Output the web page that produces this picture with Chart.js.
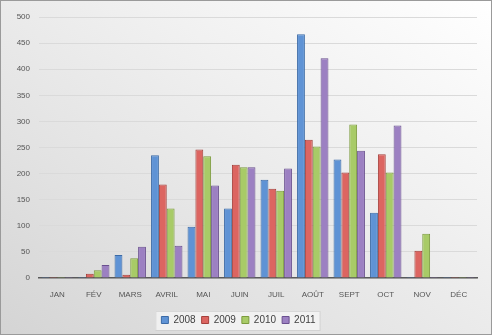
<!DOCTYPE html>
<html>
<head>
<meta charset="utf-8">
<script src="https://cdn.jsdelivr.net/npm/chart.js@4.4.1/dist/chart.umd.min.js"></script>
<style>
  html, body { margin: 0; padding: 0; }
  #wrap { width: 492px; height: 335px; }
  canvas {
    background: linear-gradient(to bottom left, #ffffff 0%, #f1f1f1 35%, #e2e2e2 70%, #d4d4d4 100%);
  }
</style>
</head>
<body>
<div id="wrap"><canvas id="chart" width="492" height="335"></canvas></div>
<script>
// months (French, as on the chart)
const months = ['JAN', 'FÉV', 'MARS', 'AVRIL', 'MAI', 'JUIN', 'JUIL', 'AOÛT', 'SEPT', 'OCT', 'NOV', 'DÉC'];
const years = ['2008', '2009', '2010', '2011'];

// values
const values2008 = [2, 2, 44, 235, 98, 133, 188, 467, 227, 125, 2, 2];
const values2009 = [2, 8, 6, 179, 246, 217, 171, 265, 202, 237, 52, 2];
const values2010 = [2, 15, 38, 133, 233, 212, 167, 252, 294, 202, 85, 2];
const values2011 = [2, 25, 60, 62, 177, 212, 210, 421, 244, 292, 2, 2];

const yTicks = [0, 50, 100, 150, 200, 250, 300, 350, 400, 450, 500];

var fills = ['#5f93d5', '#dc6561', '#a8cb67', '#9c80c2'];
var borders = ['#3b6aa6', '#a5403c', '#7c9b3e', '#6a508f'];

var series = [values2008, values2009, values2010, values2011];
var datasets = series.map((vals, i) => ({
    label: years[i],
    data: vals,
    backgroundColor: fills[i],
    borderColor: borders[i],
    borderWidth: 1,
    categoryPercentage: 0.86,
    barPercentage: 1.0
}));

// light box behind the legend items + outer frame
const frame = {
    id: 'frame',
    beforeDraw(chart) {
        const lg = chart.legend;
        if (lg && lg.legendHitBoxes && lg.legendHitBoxes.length) {
            var l = Math.min(...lg.legendHitBoxes.map(b => b.left)) - 6;
            var r = Math.max(...lg.legendHitBoxes.map(b => b.left + b.width)) + 4;
            var mid = lg.legendHitBoxes[0].top + lg.legendHitBoxes[0].height / 2;
            var ctx = chart.ctx;
            ctx.save();
            ctx.fillStyle = 'rgba(245,245,245,0.8)';
            ctx.strokeStyle = 'rgba(200,200,200,0.6)';
            ctx.fillRect(l, Math.round(mid - 9.5), r - l, 19);
            ctx.strokeRect(l + 0.5, Math.round(mid - 9.5) + 0.5, r - l, 19);
            ctx.restore();
        }
    },
    afterDraw(chart) {
        var ctx = chart.ctx;
        ctx.save();
        ctx.strokeStyle = '#9a9a9a';
        ctx.lineWidth = 1;
        ctx.strokeRect(0.5, 0.5, chart.width - 1, chart.height - 1);
        ctx.restore();
    }
};

const ctx = document.getElementById('chart').getContext('2d');
var chart = new Chart(ctx, {
    type: 'bar',
    data: { labels: months, datasets: datasets },
    plugins: [frame],
    options: {
        responsive: false,
        animation: false,
        layout: { padding: { left: 0, right: 15, top: 17, bottom: 0 } },
        plugins: {
            legend: {
                position: 'bottom',
                labels: {
                    boxWidth: 7,
                    boxHeight: 7,
                    padding: 6,
                    color: '#404040',
                    font: { family: 'Liberation Sans', size: 10 }
                }
            },
            tooltip: { enabled: false }
        },
        scales: {
            x: {
                grid: { display: false, drawTicks: false },
                border: { display: true, color: '#5a5a5a', width: 1.5 },
                ticks: {
                    padding: 12,
                    color: '#555555',
                    font: { family: 'Liberation Sans', size: 8 }
                },
                afterFit: (scale) => { scale.height = 31; }
            },
            y: {
                min: 0,
                max: 500,
                afterBuildTicks: (scale) => { scale.ticks = yTicks.map(v => ({ value: v })); },
                grid: { color: '#dadada', lineWidth: 1, drawTicks: false },
                border: { display: false },
                ticks: {
                    padding: 9,
                    color: '#555555',
                    font: { family: 'Liberation Sans', size: 8 }
                },
                afterFit: (scale) => { scale.width = 39; }
            }
        }
    }
});
</script>
</body>
</html>
